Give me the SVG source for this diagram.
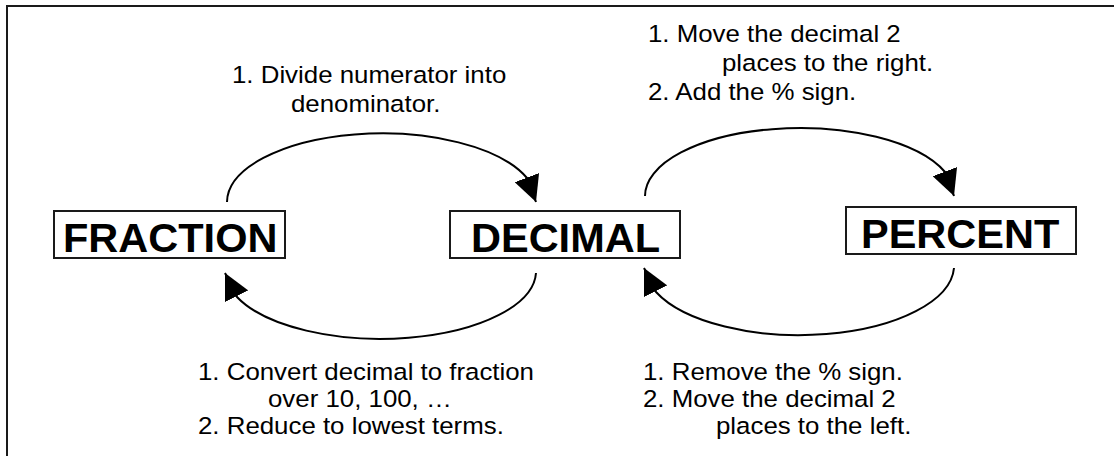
<svg xmlns="http://www.w3.org/2000/svg" width="1114" height="456" viewBox="0 0 1114 456">
<style>
.frame{fill:none;stroke:#1a1a1a;stroke-width:2}
.box{fill:#fff;stroke:#1a1a1a;stroke-width:2}
.lbl{font-family:"Liberation Sans",Arial,sans-serif;font-weight:bold;font-size:41.5px;fill:#000}
.t{font-family:"Liberation Sans",Arial,sans-serif;font-size:23.5px;fill:#000}
.arc{fill:none;stroke:#000;stroke-width:2;marker-end:url(#ah)}
</style>
<defs>
<marker id="ah" markerUnits="userSpaceOnUse" viewBox="0 0 26 26" markerWidth="26" markerHeight="26" refX="26" refY="13" orient="auto">
<path d="M0,0 L26,13 L0,26 z" fill="#000"/>
</marker>
</defs>
<rect width="1114" height="456" fill="#fff"/>
<path class="frame" d="M7,456 V6 H1114"/>
<g id="fraction">
<rect class="box" x="54" y="211" width="231" height="47"/>
<text class="lbl" x="63" y="252">FRACTION</text>
</g>
<g id="decimal">
<rect class="box" x="450" y="211" width="230" height="47"/>
<text class="lbl" x="471" y="252">DECIMAL</text>
</g>
<g id="percent">
<rect class="box" x="846" y="207" width="230" height="47"/>
<text class="lbl" x="861" y="248">PERCENT</text>
</g>
<g id="connectors">
<path class="arc" d="M227,202 A155,69 0 0 1 527,178 L536,202"/>
<path class="arc" d="M645,196 A155,68 0 0 1 945,172 L954,196"/>
<path class="arc" d="M536,273 A155.5,68 0 0 1 237,297 L225,273"/>
<path class="arc" d="M954,268 A155,70 0 0 1 656,292 L644,268"/>
</g>
<g id="labels">
<text class="t" transform="translate(232,83) scale(1.1,1)">1. Divide numerator into</text>
<text class="t" transform="translate(291,112) scale(1.1,1)">denominator.</text>
<text class="t" transform="translate(648,42) scale(1.1,1)">1. Move the decimal 2</text>
<text class="t" transform="translate(722,71) scale(1.1,1)">places to the right.</text>
<text class="t" transform="translate(648,100) scale(1.1,1)">2. Add the % sign.</text>
<text class="t" transform="translate(198,380) scale(1.1,1)">1. Convert decimal to fraction</text>
<text class="t" transform="translate(268,407) scale(1.1,1)">over 10, 100, …</text>
<text class="t" transform="translate(198,434) scale(1.1,1)">2. Reduce to lowest terms.</text>
<text class="t" transform="translate(643,380) scale(1.1,1)">1. Remove the % sign.</text>
<text class="t" transform="translate(643,407) scale(1.1,1)">2. Move the decimal 2</text>
<text class="t" transform="translate(716,434) scale(1.1,1)">places to the left.</text>
</g>
</svg>
